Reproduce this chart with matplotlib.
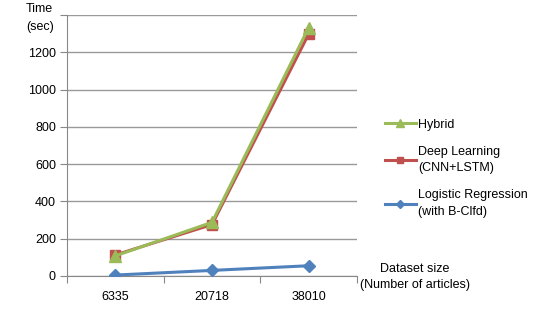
import matplotlib.pyplot as plt

plt.rcParams['font.family'] = ['Liberation Sans', 'DejaVu Sans']

sizes = ["6335", "20718", "38010"]
hybrid = [108, 288, 1332]
deep = [113, 276, 1298]
logistic = [5, 30, 55]

fig = plt.figure(figsize=(5.45, 3.16), dpi=100)
ax = fig.add_axes([0.123, 0.1266, 0.532, 0.826])

x = [0.5, 1.5, 2.5]
l1, = ax.plot(x, hybrid, color="#9BBB59", marker="^", markersize=8, linewidth=2.2,
              label="Hybrid", zorder=4)
l2, = ax.plot(x, deep, color="#C0504D", marker="s", markersize=7, linewidth=2.2,
              label="Deep Learning\n(CNN+LSTM)", zorder=3)
l3, = ax.plot(x, logistic, color="#4F81BD", marker="D", markersize=6, linewidth=2.2,
              label="Logistic Regression\n(with B-Clfd)", zorder=3)

ax.set_xlim(0, 3)
ax.set_ylim(0, 1400)
ax.set_yticks(range(0, 1401, 200))
ax.set_yticklabels(["0", "200", "400", "600", "800", "1000", "1200", ""])
ax.set_xticks([0, 1, 2, 3])
ax.set_xticklabels([])
ax.set_xticks(x, minor=True)
ax.set_xticklabels(sizes, minor=True)
ax.tick_params(axis="x", which="minor", length=0, pad=11, labelsize=9)
ax.tick_params(axis="x", which="major", length=5, color="#888888")
ax.tick_params(axis="y", length=5, color="#888888", labelsize=9, pad=3)
ax.grid(axis="y", color="#999999", linewidth=1)
ax.set_axisbelow(True)
for s in ["top", "right"]:
    ax.spines[s].set_visible(False)
for s in ["left", "bottom"]:
    ax.spines[s].set_color("#888888")

fig.text(0.048, 0.99, "Time\n(sec)", fontsize=9, va="top", ha="left", linespacing=1.6)
fig.text(0.66, 0.168, "Dataset size\n(Number of articles)", fontsize=9, va="top",
         ha="left", linespacing=1.5, multialignment="center")

leg = fig.legend(handles=[l1, l2, l3], loc="upper left", bbox_to_anchor=(0.685, 0.66),
                 frameon=False, fontsize=9, handlelength=2.5, handletextpad=0.2,
                 labelspacing=1.2, markerscale=0.7)
for t in leg.get_texts():
    t.set_linespacing(1.5)

fig.savefig("out.png", dpi=100)
